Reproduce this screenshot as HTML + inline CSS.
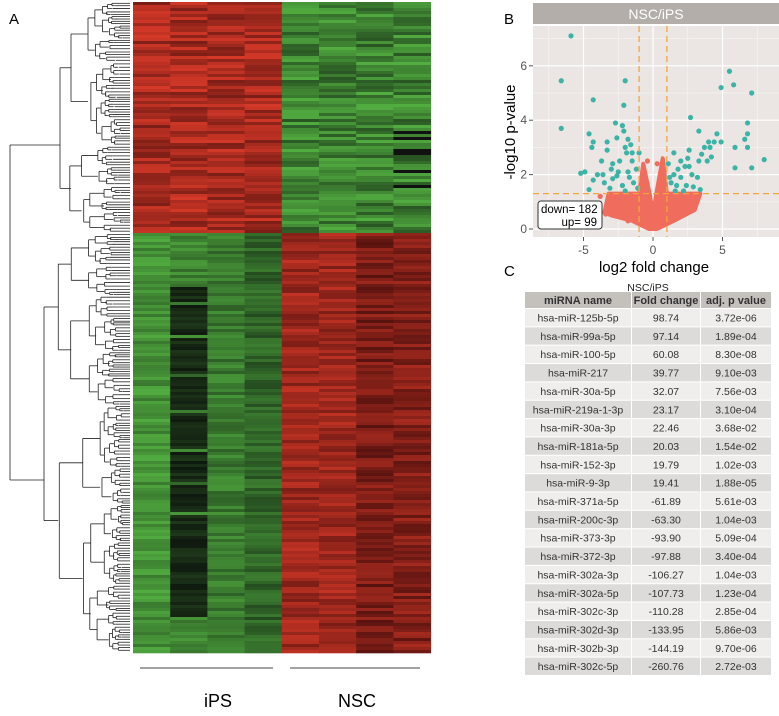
<!DOCTYPE html>
<html><head><meta charset="utf-8"><style>
body{margin:0;width:779px;height:716px;background:#fff;font-family:"Liberation Sans",sans-serif;overflow:hidden}
svg{position:absolute;left:0;top:0}
</style></head><body>
<svg id="fig" width="779" height="716">
<text x="9" y="24" font-size="15">A</text>
<text x="504" y="24" font-size="15">B</text>
<text x="504" y="276" font-size="15">C</text>
<g id="dendro" stroke="#222" stroke-width="0.8" fill="none"></g>
<g id="heat"></g>
<line x1="140" y1="668" x2="273" y2="668" stroke="#444"/>
<line x1="290" y1="668" x2="420" y2="668" stroke="#444"/>
<text x="218" y="707" font-size="18" text-anchor="middle">iPS</text>
<text x="357" y="707" font-size="18" text-anchor="middle">NSC</text>
<g id="volcano"></g>
<g id="table"></g>
</svg>
<script>
const NS="http://www.w3.org/2000/svg";
function mk(p,tag,a,txt){const e=document.createElementNS(NS,tag);for(const k in a)e.setAttribute(k,a[k]);if(txt!==undefined)e.textContent=txt;p.appendChild(e);return e;}

// ---------- Volcano data ----------
const sigDownX=[-5.9,-6.6,-6.6,-2.0,-4.3,-2.1,-2.7,-2.2,-2.1,-4.6,-4.3,-4.4,-3.3,-2.6,-1.8,-1.6,-2.0,-3.3,-1.9,-1.0,-1.5,-3.7,-2.9,-2.4,-1.5,-5.2,-4.9,-4.0,-3.6,-2.5,-1.8,-1.2,-4.3,-3.5,-2.9,-2.2,-1.4,-4.6,-3.1,-2.0,-1.1,-2.6,-3.0,-1.7];
const sigDownY=[7.1,5.45,3.7,5.45,4.75,4.55,3.9,3.8,3.6,3.5,3.2,3.0,3.2,3.35,3.3,3.1,3.0,2.9,2.8,2.8,2.8,2.5,2.4,2.5,2.5,2.05,2.1,2.0,2.0,2.1,2.1,2.2,1.8,1.7,1.85,1.6,1.7,1.45,1.5,1.4,1.5,1.95,2.2,1.9];
const sigUpX=[5.5,5.8,7.1,4.9,2.7,3.3,6.8,4.6,6.8,6.6,4.0,4.4,4.9,3.7,4.1,5.9,6.8,2.6,3.5,4.2,3.9,3.3,8.0,5.9,7.1,1.5,2.5,2.0,1.8,2.3,1.5,2.8,3.2,2.0,1.3,1.7,2.4,1.6,2.2,3.4,2.9,1.1,1.2,2.6];
const sigUpY=[5.8,5.3,5.0,5.2,4.1,3.6,3.9,3.5,3.5,3.3,3.2,3.2,3.2,3.0,3.0,3.0,3.0,2.9,2.75,2.65,2.5,2.5,2.55,2.25,2.25,2.8,2.6,2.5,2.2,2.3,2.0,2.0,1.9,1.9,1.7,1.6,1.6,1.4,1.4,1.45,1.55,2.4,1.9,2.3];
const nsCloudX=[-3.5,-3.2,-1.0,-0.7,-0.2,0,0.2,0.7,1.0,3.4,3.0,1.5,0.3,-0.3,-1.5,-3.0];
const nsCloudY=[0.6,1.3,1.3,2.4,1.2,0.5,1.2,2.6,1.3,1.3,0.7,0.3,0,0,0.3,0.5];
const nsPtX=[-3.4,-3.0,-2.5,-2.0,-1.5,-3.8,-2.8,-1.8,2.2,2.8,1.6,3.0,-0.6,0.5,-0.4,0.3];
const nsPtY=[0.55,0.7,1.0,0.9,1.1,1.2,1.25,0.3,1.0,0.7,0.4,1.1,2.0,1.8,2.5,2.4];
const xTicks=[-5,0,5], yTicks=[0,2,4,6];

const vx=v=>653+v*13.9, vy=v=>229-v*27.2;
const V=document.getElementById('volcano');
let r=mk(V,'rect',{x:533,y:3,width:246,height:21,fill:'#b3aea9'});

let t=mk(V,'text',{x:656,y:19,'font-size':14,fill:'#fff','text-anchor':'middle'},'NSC/iPS');

r=mk(V,'rect',{x:533,y:26,width:246,height:211,fill:'#ebe6e3'});

[-7.5,-2.5,2.5,7.5].forEach(v=>mk(V,'line',{x1:vx(v),x2:vx(v),y1:26,y2:237,stroke:'#f7f4f2','stroke-width':0.6}));
[1,3,5,7].forEach(v=>mk(V,'line',{x1:533,x2:779,y1:vy(v),y2:vy(v),stroke:'#f7f4f2','stroke-width':0.6}));
xTicks.forEach(v=>{mk(V,'line',{x1:vx(v),x2:vx(v),y1:26,y2:237,stroke:'#fff','stroke-width':1.2});
 mk(V,'line',{x1:vx(v),x2:vx(v),y1:237,y2:241,stroke:'#555'});
 let e=mk(V,'text',{x:vx(v),y:254,'font-size':12,fill:'#555','text-anchor':'middle'},String(v));
 });
yTicks.forEach(v=>{mk(V,'line',{x1:533,x2:779,y1:vy(v),y2:vy(v),stroke:'#fff','stroke-width':1.2});
 mk(V,'line',{x1:529,x2:533,y1:vy(v),y2:vy(v),stroke:'#555'});
 let e=mk(V,'text',{x:527,y:vy(v)+4,'font-size':12,fill:'#555','text-anchor':'end'},String(v));
 });
let pts=nsCloudX.map((x,i)=>vx(x)+','+vy(nsCloudY[i])).join(' ');
let cl=mk(V,'polygon',{points:pts,fill:'#f06c5c',stroke:'#f06c5c','stroke-width':4,'stroke-linejoin':'round'});

nsPtX.forEach((x,i)=>{let c=mk(V,'circle',{cx:vx(x),cy:vy(nsPtY[i]),r:2.6,fill:'#f06c5c'});
 });
function sig(xs,ys){xs.forEach((x,i)=>{let c=mk(V,'circle',{cx:vx(x),cy:vy(ys[i]),r:2.6,fill:'#3bb3a6'});
 });}
sig(sigDownX,sigDownY);sig(sigUpX,sigUpY);
[-1,1].forEach(v=>mk(V,'line',{x1:vx(v),x2:vx(v),y1:26,y2:237,stroke:'#f0a540','stroke-width':1.3,'stroke-dasharray':'6,4'}));
mk(V,'line',{x1:533,x2:779,y1:vy(1.3),y2:vy(1.3),stroke:'#f0a540','stroke-width':1.3,'stroke-dasharray':'6,4'});
r=mk(V,'rect',{x:538,y:201,width:64,height:28,rx:3,fill:'#fff',stroke:'#333'});

mk(V,'text',{x:541,y:213,'font-size':11.5},'down= 182');
mk(V,'text',{x:597,y:226,'font-size':11.5,'text-anchor':'end'},'up= 99');
t=mk(V,'text',{x:654,y:272,'font-size':15,'text-anchor':'middle'},'log2 fold change');

t=mk(V,'text',{x:0,y:0,'font-size':15,'text-anchor':'middle',transform:'translate(515,132) rotate(-90)'},'-log10 p-value');


// ---------- Table ----------
const names=['hsa-miR-125b-5p','hsa-miR-99a-5p','hsa-miR-100-5p','hsa-miR-217','hsa-miR-30a-5p','hsa-miR-219a-1-3p','hsa-miR-30a-3p','hsa-miR-181a-5p','hsa-miR-152-3p','hsa-miR-9-3p','hsa-miR-371a-5p','hsa-miR-200c-3p','hsa-miR-373-3p','hsa-miR-372-3p','hsa-miR-302a-3p','hsa-miR-302a-5p','hsa-miR-302c-3p','hsa-miR-302d-3p','hsa-miR-302b-3p','hsa-miR-302c-5p'];
const folds=['98.74','97.14','60.08','39.77','32.07','23.17','22.46','20.03','19.79','19.41','-61.89','-63.30','-93.90','-97.88','-106.27','-107.73','-110.28','-133.95','-144.19','-260.76'];
const pvals=['3.72e-06','1.89e-04','8.30e-08','9.10e-03','7.56e-03','3.10e-04','3.68e-02','1.54e-02','1.02e-03','1.88e-05','5.61e-03','1.04e-03','5.09e-04','3.40e-04','1.04e-03','1.23e-04','2.85e-04','5.86e-03','9.70e-06','2.72e-03'];
const T=document.getElementById('table');
const colX=[525,632,701], colW=[106,68,70];
t=mk(T,'text',{x:648,y:291,'font-size':10.5,'text-anchor':'middle',fill:'#222'},'NSC/iPS');

['miRNA name','Fold change','adj. p value'].forEach((h,j)=>{
 mk(T,'rect',{x:colX[j],y:292,width:colW[j],height:16,fill:'#c4c1bd'});
 let e=mk(T,'text',{x:colX[j]+colW[j]/2,y:304,'font-size':11,'font-weight':'bold','text-anchor':'middle',fill:'#333'},h);
 });
names.forEach((n,i)=>{const y=309+i*18.35;const f=i%2?'#dddbd9':'#efeeed';
 [n,folds[i],pvals[i]].forEach((v,j)=>{mk(T,'rect',{x:colX[j],y:y,width:colW[j],height:17.3,fill:f});
  let e=mk(T,'text',{x:colX[j]+colW[j]/2,y:y+12.5,'font-size':10.5,'text-anchor':'middle',fill:'#333'},v);
  });});

// ---------- Heatmap (texture) ----------
const H=document.getElementById('heat');
let seed=7;function rnd(){seed=(seed*16807)%2147483647;return seed/2147483647;}
const hTop=2,hSplit=233,hBot=652,hx=133,cw=37.2;
const red=k=>`rgb(${Math.round(60+k*180)},${Math.round(10+k*55)},${Math.round(10+k*35)})`;
const grn=k=>`rgb(${Math.round(20+k*70)},${Math.round(40+k*150)},${Math.round(20+k*50)})`;
for(let y=hTop;y<hBot;y+=3){
 const upper=y<hSplit;
 for(let c=0;c<8;c++){
  let k=rnd();
  const ips=c<4;
  let colr;
  if(upper){ colr= ips?red(0.35+0.5*k):grn(0.3+0.6*k); if(c===7&&y>120&&rnd()<0.2)colr='#111';}
  else{
   if(ips){ let base=c===0?0.7:c===1?0.6:c===2?0.55:0.4;
    if(c===1&&y>285&&y<615&&rnd()<0.9) colr=`rgb(${Math.round(15+k*15)},${Math.round(25+k*30)},${Math.round(15+k*10)})`;
    else colr=grn(Math.min(1,base+0.35*(k-0.5)));}
   else{ let base=c===4?0.55:c===5?0.55:c===6?0.35:0.4; colr=red(Math.min(1,Math.max(0,base+0.4*(k-0.5))));}
  }
  mk(H,'rect',{x:hx+c*cw,y:y,width:cw+0.5,height:3.3,fill:colr});
 }
}
// ---------- Dendrogram (texture) ----------
const D=document.getElementById('dendro');
function tree(y0,y1,xr,depth){
 const leafX=130;
 if(y1-y0<4||depth>9){mk(D,'line',{x1:xr,x2:leafX,y1:(y0+y1)/2,y2:(y0+y1)/2});return (y0+y1)/2;}
 const m=y0+(y1-y0)*(0.35+0.3*rnd());
 const step=(leafX-xr)*(0.12+0.25*rnd());
 const a=tree(y0,m,xr+step,depth+1), b=tree(m,y1,xr+step*(0.8+0.4*rnd()),depth+1);
 mk(D,'line',{x1:xr,x2:xr,y1:a,y2:b});
 mk(D,'line',{x1:xr,x2:xr+step,y1:a,y2:a});
 mk(D,'line',{x1:xr,x2:xr+step,y1:b,y2:b});
 return (a+b)/2;
}
tree(2,233,60,1);tree(233,652,44,1);
mk(D,'line',{x1:10,x2:10,y1:145,y2:480});mk(D,'line',{x1:10,x2:60,y1:145,y2:145});mk(D,'line',{x1:10,x2:44,y1:480,y2:480});
</script>
</body></html>
